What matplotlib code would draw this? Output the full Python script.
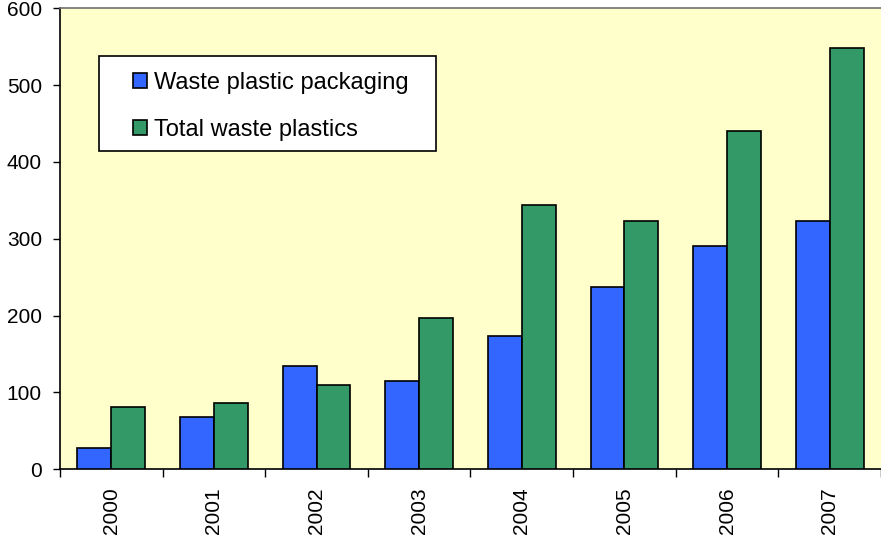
import numpy as np
import matplotlib
matplotlib.use("Agg")
import matplotlib.pyplot as plt
from matplotlib.patches import Rectangle

years = ["2000", "2001", "2002", "2003", "2004", "2005", "2006", "2007"]
packaging = [28, 68, 135, 115, 173, 237, 290, 323]
total = [81, 86, 110, 197, 344, 323, 440, 548]

plt.rcParams['font.family'] = ['Liberation Sans', 'DejaVu Sans']

fig = plt.figure(figsize=(8.81, 5.4), dpi=100)
ax = fig.add_axes([0.0681, 0.1309, 0.9319, 0.8537])
ax.set_facecolor("#FFFFCC")

x = np.arange(len(years))
w = 0.33
ax.bar(x - w / 2, packaging, w, color="#3366FF", edgecolor="black", linewidth=1.2,
       label="Waste plastic packaging", zorder=3)
ax.bar(x + w / 2, total, w, color="#339966", edgecolor="black", linewidth=1.2,
       label="Total waste plastics", zorder=3)

ax.set_xlim(-0.5, len(years) - 0.5)
ax.set_ylim(0, 600)
ax.set_yticks(range(0, 601, 100))
ax.tick_params(axis="y", direction="out", length=5, width=1, labelsize=15, pad=8)

# category ticks sit on the boundaries, labels in the middle
ax.set_xticks(np.arange(len(years) + 1) - 0.5)
ax.set_xticklabels([])
ax.set_xticks(x, minor=True)
ax.set_xticklabels(years, minor=True, rotation=90, fontsize=15)
ax.tick_params(axis="x", which="major", direction="out", length=6, width=1)
ax.tick_params(axis="x", which="minor", length=0, pad=13)

for side in ("left", "bottom"):
    ax.spines[side].set_color("black")
    ax.spines[side].set_linewidth(1.2)
ax.spines["top"].set_color("#707070")
ax.spines["top"].set_linewidth(1.2)
ax.spines["right"].set_visible(False)

# legend box drawn separately so the padding can be uneven
fig.patches.append(Rectangle((0.1124, 0.7204), 0.3825, 0.1759, transform=fig.transFigure,
                             facecolor="white", edgecolor="black", linewidth=1.2,
                             zorder=5))
handles, labels = ax.get_legend_handles_labels()
leg = fig.legend(handles, labels, loc="center left", bbox_to_anchor=(0.1504, 0.803),
                 fontsize=17, frameon=False,
                 handlelength=0.6, handleheight=0.57, handletextpad=0.3,
                 labelspacing=1.05, borderpad=0, borderaxespad=0)
leg.set_zorder(6)

fig.savefig("out.png", dpi=100)
